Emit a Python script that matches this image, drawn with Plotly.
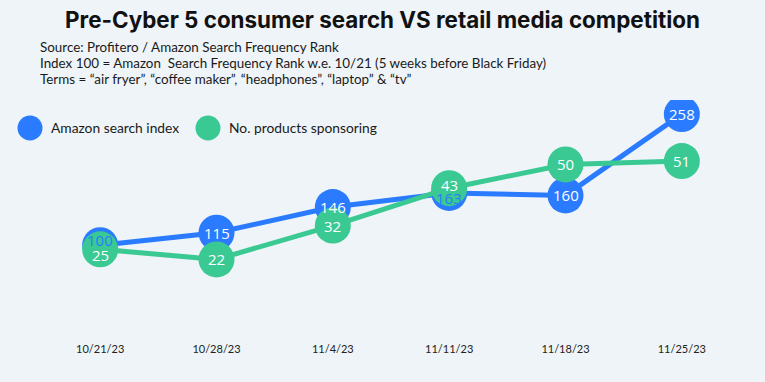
import plotly.graph_objects as go

weeks = ["10/21/23", "10/28/23", "11/4/23", "11/11/23", "11/18/23", "11/25/23"]
search_index = [100, 115, 146, 163, 160, 258]
products_sponsoring = [25, 22, 32, 43, 50, 51]

BLUE = "#2A7BFF"
GREEN = "#3AC992"
BG = "#EEF4F8"
LABEL_FONT = "Open Sans"
TEXT_FONT = "Lato"

W, H = 765, 382
L, R, T, B = 42, 25, 100, 53
PW, PH = W - L - R, H - T - B


def px(xp):
    return (xp - L) / PW


def py(yp):
    return (H - B - yp) / PH


fig = go.Figure()

fig.add_trace(go.Scatter(
    x=weeks, y=search_index, name="Amazon search index",
    mode="lines+markers",
    line=dict(color=BLUE, width=5),
    marker=dict(color=BLUE, size=36),
    yaxis="y", hoverinfo="skip",
))
fig.add_trace(go.Scatter(
    x=weeks, y=products_sponsoring, name="No. products sponsoring",
    mode="lines+markers",
    line=dict(color=GREEN, width=5),
    marker=dict(color=GREEN, size=36),
    yaxis="y2", hoverinfo="skip",
))

# value labels (drawn on top of all markers); small nudges where labels collide
blue_label_colors = [BLUE, "white", "white", BLUE, "white", "white"]
blue_nudge = [5, 0, 0, -5, 0, 0]
green_nudge = [-6, 0, 0, 3, 0, 0]
annotations = []
for w, v, c, s in zip(weeks, search_index, blue_label_colors, blue_nudge):
    annotations.append(dict(x=w, y=v, xref="x", yref="y", text=str(v),
                            showarrow=False, yshift=s,
                            font=dict(color=c, size=15, family=LABEL_FONT)))
for w, v, s in zip(weeks, products_sponsoring, green_nudge):
    annotations.append(dict(x=w, y=v, xref="x", yref="y2", text=str(v),
                            showarrow=False, yshift=s,
                            font=dict(color="white", size=15, family=LABEL_FONT)))

# subtitle
sub_lines = [
    "Source: Profitero / Amazon Search Frequency Rank",
    "Index 100 = Amazon  Search Frequency Rank w.e. 10/21 (5 weeks before Black Friday)",
    "Terms = \u201cair fryer\u201d, \u201ccoffee maker\u201d, \u201cheadphones\u201d, \u201claptop\u201d & \u201ctv\u201d",
]
sub_y = [47, 63, 79]
for t, yp in zip(sub_lines, sub_y):
    annotations.append(dict(x=px(38), y=py(yp), xref="paper", yref="paper",
                            text=t, showarrow=False, xanchor="left", yanchor="middle",
                            font=dict(size=13.4, color="#1a1a1a", family=TEXT_FONT)))

# custom legend
legend_items = [("Amazon search index", BLUE, 30, 49),
                ("No. products sponsoring", GREEN, 208, 227)]
shapes = []
for name, col, cx, tx in legend_items:
    shapes.append(dict(type="circle", xref="paper", yref="paper",
                       xsizemode="pixel", ysizemode="pixel",
                       xanchor=px(cx), yanchor=py(128),
                       x0=-12.5, x1=12.5, y0=-12.5, y1=12.5,
                       fillcolor=col, line=dict(width=0)))
    annotations.append(dict(x=px(tx), y=py(128), xref="paper", yref="paper",
                            text=name, showarrow=False, xanchor="left", yanchor="middle",
                            font=dict(size=13.8, color="#1a1a1a", family=TEXT_FONT)))

fig.update_layout(
    width=W, height=H,
    paper_bgcolor=BG, plot_bgcolor=BG,
    margin=dict(l=L, r=R, t=T, b=B),
    showlegend=False,
    title=dict(text="<b>Pre-Cyber 5 consumer search VS retail media competition</b>",
               x=0.5, xanchor="center", y=1 - 20 / H, yanchor="middle",
               yref="container",
               font=dict(size=22.4, color="#111111", family="Inter")),
    xaxis=dict(type="category", range=[-0.5, 5.5], showgrid=False, zeroline=False,
               showline=False, ticks="", ticklabelstandoff=12,
               tickfont=dict(size=11, color="#222222", family=TEXT_FONT)),
    yaxis=dict(range=[-1, 275], visible=False, showgrid=False),
    yaxis2=dict(range=[1.5, 69], visible=False, showgrid=False,
                overlaying="y", side="right"),
    annotations=annotations,
    shapes=shapes,
)

fig.write_html("out.html", config={"displayModeBar": False},
               post_script="document.body.style.margin='0';document.body.style.overflow='hidden';")
